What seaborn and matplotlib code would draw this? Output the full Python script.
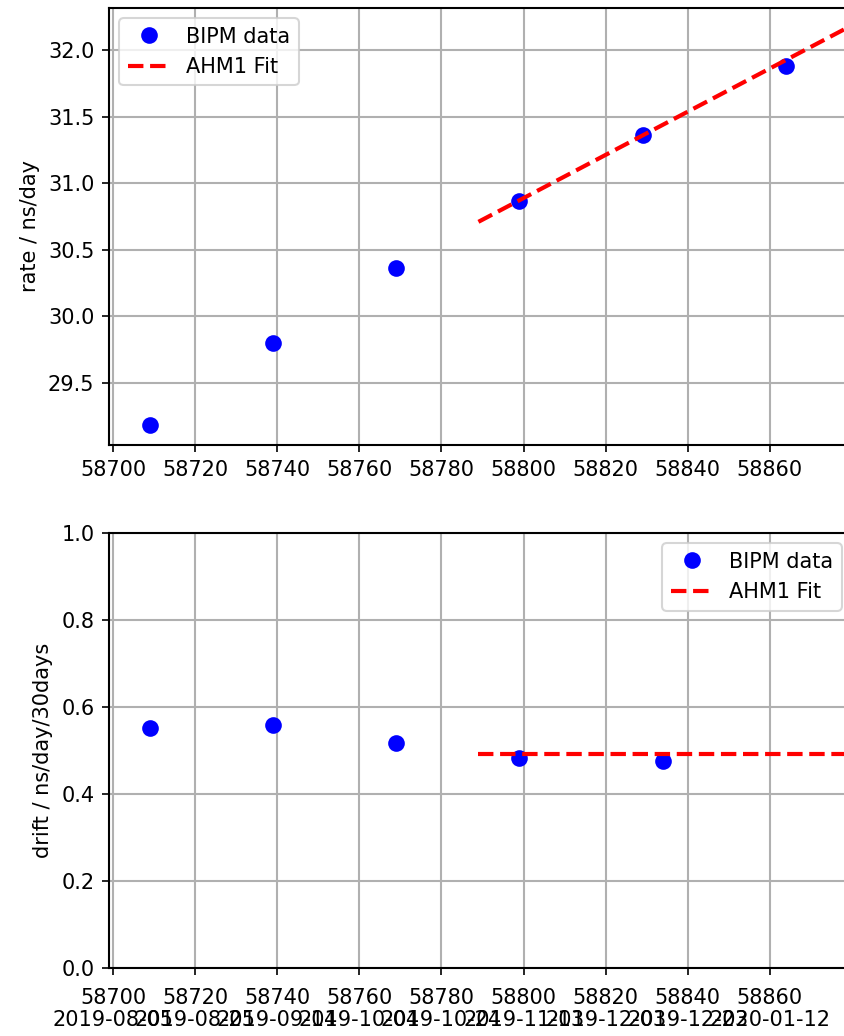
import matplotlib
matplotlib.use("Agg")
import matplotlib.pyplot as plt
import seaborn as sns

# BIPM data (MJD)
rate_mjd = [58709, 58739, 58769, 58799, 58829, 58864]
rate_vals = [29.18, 29.80, 30.36, 30.87, 31.36, 31.88]

drift_mjd = [58709, 58739, 58769, 58799, 58834]
drift_vals = [0.552, 0.558, 0.517, 0.483, 0.477]

# AHM1 fit
fit_mjd = [58789, 58880]
fit_rate = [30.71, 32.19]
fit_drift = [0.4925, 0.4925]

tick_mjd = [58700, 58720, 58740, 58760, 58780, 58800, 58820, 58840, 58860]
tick_dates = ["2019-08-05", "2019-08-25", "2019-09-14", "2019-10-04", "2019-10-24",
              "2019-11-13", "2019-12-03", "2019-12-23", "2020-01-12"]

plt.rcParams["font.family"] = ["DejaVu Sans"]
plt.rcParams["font.size"] = 10

fig = plt.figure(figsize=(844 / 150, 1036 / 150), dpi=150)
ax1 = fig.add_axes([0.1291, 0.5705, 0.8804, 0.4218])
ax2 = fig.add_axes([0.1291, 0.0656, 0.8804, 0.4199])

# Top: rate
sns.lineplot(x=rate_mjd, y=rate_vals, ax=ax1, color="blue", marker="o", markersize=8,
             markeredgewidth=0, linestyle="none", label="BIPM data", zorder=3)
sns.lineplot(x=fit_mjd, y=fit_rate, ax=ax1, color="red", linestyle="--", linewidth=2,
             label="AHM1 Fit", zorder=4)
ax1.set_xlim(58699, 58880)
ax1.set_ylim(29.03, 32.32)
ax1.set_xticks(tick_mjd)
ax1.set_ylabel("rate / ns/day")
ax1.grid(True, color="#b0b0b0", linewidth=1.0)
ax1.set_axisbelow(True)
ax1.legend(loc="upper left")

# Bottom: drift
sns.lineplot(x=drift_mjd, y=drift_vals, ax=ax2, color="blue", marker="o", markersize=8,
             markeredgewidth=0, linestyle="none", label="BIPM data", zorder=3)
sns.lineplot(x=fit_mjd, y=fit_drift, ax=ax2, color="red", linestyle="--", linewidth=2,
             label="AHM1 Fit", zorder=4)
ax2.set_xlim(58699, 58880)
ax2.set_ylim(0.0, 1.0)
ax2.set_xticks(tick_mjd)
ax2.set_xticklabels([f"{m}\n{d}" for m, d in zip(tick_mjd, tick_dates)], linespacing=1.15)
ax2.tick_params(axis="x", pad=6)
ax2.set_ylabel("drift / ns/day/30days")
ax2.grid(True, color="#b0b0b0", linewidth=1.0)
ax2.set_axisbelow(True)
ax2.legend(loc="upper right")

for ax in (ax1, ax2):
    for sp in ax.spines.values():
        sp.set_linewidth(1.0)
        sp.set_color("black")

fig.savefig("out.png", dpi=150)
